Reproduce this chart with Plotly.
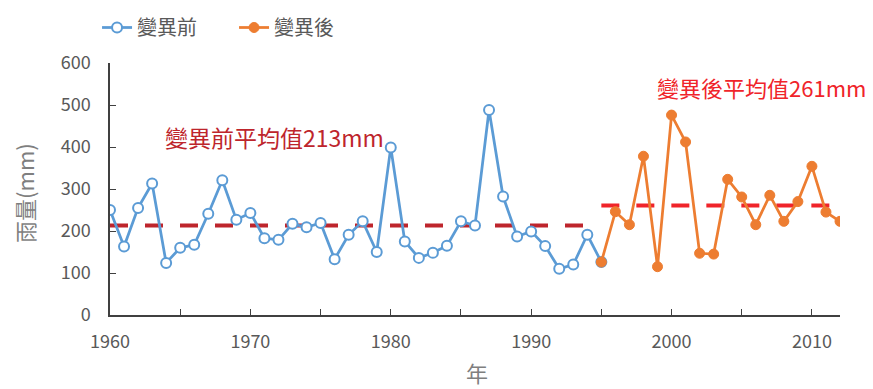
import plotly.graph_objects as go

years_before = list(range(1960, 1995))
rain_before = [250, 163, 255, 313, 124, 160, 167, 241, 321, 227,
               243, 183, 179, 217, 209, 219, 133, 191, 223, 150,
               399, 175, 136, 148, 165, 223, 213, 488, 282, 187,
               199, 164, 110, 120, 191]
years_after = list(range(1995, 2013))
rain_after = [126, 246, 215, 378, 115, 476, 412, 147, 145, 323,
              281, 215, 285, 223, 270, 354, 245, 223]
mean_before = 213
mean_after = 261
x_ticks = list(range(1960, 2011, 5))
x_labels = [str(v) if v % 10 == 0 else "" for v in x_ticks]
y_ticks = list(range(0, 601, 100))

FONT = "Noto Sans CJK TC"
BLUE = "#5B9BD5"
ORANGE = "#ED7D31"

fig = go.Figure()
# mean lines
fig.add_trace(go.Scatter(x=[years_before[0], years_before[-1]], y=[mean_before, mean_before],
                         mode="lines", line=dict(color="#BE252C", width=4, dash="18px,17px"),
                         showlegend=False, hoverinfo="skip"))
fig.add_trace(go.Scatter(x=[years_after[0], years_after[-1]], y=[mean_after, mean_after],
                         mode="lines", line=dict(color="#F0242A", width=4, dash="18px,17px"),
                         showlegend=False, hoverinfo="skip"))
# series
fig.add_trace(go.Scatter(x=years_before + [years_after[0]], y=rain_before + [rain_after[0]],
                         mode="lines+markers", name="變異前",
                         line=dict(color=BLUE, width=2.75),
                         marker=dict(symbol="circle", size=10, color="white",
                                     line=dict(color=BLUE, width=2))))
fig.add_trace(go.Scatter(x=years_after, y=rain_after,
                         mode="lines+markers", name="變異後",
                         line=dict(color=ORANGE, width=2.75),
                         marker=dict(symbol="circle", size=10, color=ORANGE,
                                     line=dict(color=ORANGE, width=1))))

fig.add_annotation(x=1971.7, y=424, xref="x", yref="y", showarrow=False,
                   xanchor="center", yanchor="middle",
                   text=f"變異前平均值{mean_before}mm",
                   font=dict(family=FONT, size=23, color="#BE252C"))
fig.add_annotation(x=2006.4, y=543, xref="x", yref="y", showarrow=False,
                   xanchor="center", yanchor="middle",
                   text=f"變異後平均值{mean_after}mm",
                   font=dict(family=FONT, size=22, color="#F0242A"))
# axis titles
fig.add_annotation(x=-0.118, y=0.484, xref="paper", yref="paper", showarrow=False,
                   xanchor="center", yanchor="middle",
                   text="雨量(mm)", textangle=-90,
                   font=dict(family=FONT, size=22, color="#7F7F7F"))
fig.add_annotation(x=0.503, y=-0.225, xref="paper", yref="paper", showarrow=False,
                   xanchor="center", yanchor="middle",
                   text="年", font=dict(family=FONT, size=22, color="#7F7F7F"))

fig.update_layout(
    width=873, height=389,
    margin=dict(l=102, r=41, t=55, b=82, autoexpand=False),
    paper_bgcolor="white", plot_bgcolor="white",
    font=dict(family=FONT, size=18, color="#595959"),
    showlegend=True,
    legend=dict(orientation="h", xref="container", yref="container",
                x=0.102, y=1.0, xanchor="left", yanchor="top",
                font=dict(family=FONT, size=20, color="#595959"),
                itemwidth=30, entrywidth=92, bgcolor="rgba(0,0,0,0)"),
    xaxis=dict(range=[1960, 2012], tickmode="array", tickvals=x_ticks, ticktext=x_labels,
               showline=True, linecolor="#404040", linewidth=1.5,
               ticks="inside", ticklen=6, tickcolor="#404040", tickwidth=1,
               ticklabelstandoff=10, automargin=False,
               showgrid=False, zeroline=False),
    yaxis=dict(range=[0, 600], tickmode="array", tickvals=y_ticks,
               showline=True, linecolor="#404040", linewidth=1.5,
               ticks="inside", ticklen=6, tickcolor="#404040", tickwidth=1,
               ticklabelstandoff=14, automargin=False,
               showgrid=False, zeroline=False),
)

fig.write_html("out.html")
